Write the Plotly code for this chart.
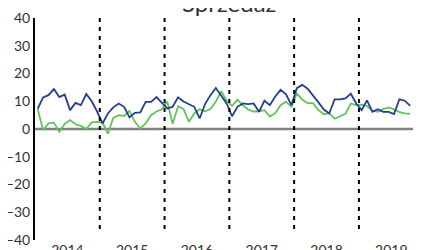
import plotly.graph_objects as go

years = ["2014", "2015", "2016", "2017", "2018", "2019"]
months = list(range(70))  # Jan 2014 .. Oct 2019, month index

blue = [7.3, 11.4, 12.2, 14.4, 11.5, 12.4, 6.8, 9.4, 8.6, 12.6, 10.0, 6.3,
        2.0, 5.6, 7.8, 9.2, 8.0, 4.2, 5.8, 6.0, 9.8, 9.8, 11.5, 9.3,
        7.4, 8.0, 11.4, 9.9, 9.0, 8.0, 3.8, 9.0, 12.2, 14.8, 12.0, 9.2,
        4.6, 8.0, 9.2, 9.0, 9.2, 6.2, 10.2, 8.6, 11.7, 14.1, 12.5, 8.6,
        14.7, 15.9, 14.5, 12.2, 9.6, 7.0, 5.6, 10.7, 10.7, 11.0, 12.7, 9.2,
        6.8, 10.3, 6.2, 7.1, 6.2, 6.2, 5.4, 10.7, 10.2, 8.3]

green = [7.1, -0.4, 2.0, 2.3, -1.0, 1.8, 3.2, 1.7, 1.1, 0.0, 2.4, 2.6,
         2.3, -1.7, 4.0, 5.0, 4.7, 6.5, 2.6, 0.2, 2.0, 5.0, 6.3, 7.1,
         9.9, 1.9, 8.2, 7.2, 2.6, 5.6, 7.1, 6.4, 7.2, 9.9, 13.6, 10.2,
         8.3, 10.6, 8.5, 7.0, 6.3, 6.4, 6.8, 4.5, 5.7, 8.6, 9.9, 8.0,
         12.7, 10.6, 9.3, 9.3, 6.8, 5.3, 5.7, 3.7, 4.6, 5.5, 9.2, 8.6,
         8.8, 8.3, 6.6, 6.2, 7.2, 7.8, 7.1, 6.1, 5.6, 5.5]

year_centers = [5.5 + 12 * i for i in range(len(years))]
dividers = [11.5 + 12 * i for i in range(len(years) - 1)]
y_ticks = [-40, -30, -20, -10, 0, 10, 20, 30, 40]

fig = go.Figure()
fig.add_trace(go.Scatter(x=months, y=green, mode="lines",
                         line=dict(color="#62c25c", width=1.8), showlegend=False))
fig.add_trace(go.Scatter(x=months, y=blue, mode="lines",
                         line=dict(color="#233f8c", width=1.8), showlegend=False))

shapes = []
for d in dividers:
    shapes.append(dict(type="line", xref="x", yref="y", x0=d, x1=d, y0=40, y1=-37.2,
                       line=dict(color="black", width=2, dash="4px,5px"), layer="above"))
shapes.append(dict(type="line", xref="paper", yref="y", x0=0, x1=1, y0=0, y1=0,
                   line=dict(color="#808080", width=2.5), layer="below"))
fig.update_layout(shapes=shapes)

fig.add_annotation(text="Sprzedaż", xref="paper", yref="paper", x=0.503, y=1.0,
                   yshift=-1, xanchor="center", yanchor="bottom", showarrow=False,
                   font=dict(family="Lato", size=24, color="#333333"))

fig.update_xaxes(range=[-0.5, 71.0], tickvals=year_centers, ticktext=years,
                 showgrid=False, zeroline=False, showline=False, ticks="",
                 automargin=False,
                 tickfont=dict(family="Lato", size=14, color="#333333"))
fig.update_yaxes(range=[-40, 40], tickvals=y_ticks, showgrid=False, zeroline=False,
                 showline=True, linecolor="black", linewidth=2, ticks="",
                 automargin=False,
                 tickfont=dict(family="Lato", size=14, color="#333333"))

fig.update_layout(width=413, height=242, margin=dict(l=27, r=0, t=10, b=10),
                  plot_bgcolor="white", paper_bgcolor="white")

fig.write_html("out.html")
